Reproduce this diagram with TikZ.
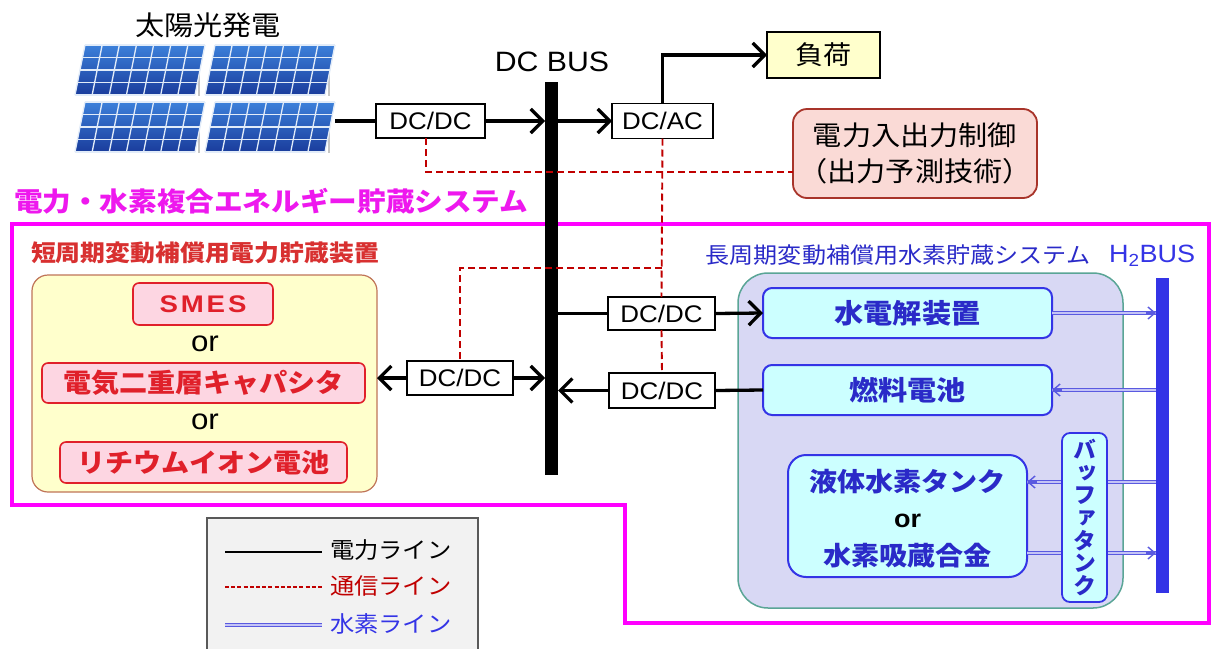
\documentclass[tikz,border=0pt]{standalone}
\usepackage{fontspec}
\setmainfont{Liberation Sans}
\newfontfamily\lat{Liberation Sans}[FakeStretch=1.08]
\newfontfamily\latw{Liberation Sans}[FakeStretch=1.15,LetterSpace=12]
\newfontfamily\jp{Noto Sans CJK JP}[FakeStretch=1.08]
\newfontfamily\jpv{Noto Sans CJK JP}[RawFeature=+vert]
\usetikzlibrary{arrows.meta,calc}
\newcommand\setfs[1]{\fontsize{#1}{#1}\selectfont}

\definecolor{pvlight}{HTML}{3C80DA}
\definecolor{pvdark}{HTML}{1A3C9C}
\definecolor{sysmag}{HTML}{FF00FF}
\definecolor{titlemag}{HTML}{EE18EE}
\definecolor{commred}{HTML}{C00000}
\definecolor{shortred}{HTML}{E0202A}
\definecolor{shortlab}{HTML}{D83030}
\definecolor{pinkfill}{HTML}{FDD6E2}
\definecolor{yelfill}{HTML}{FFFFCC}
\definecolor{yelborder}{HTML}{C07458}
\definecolor{ctrlfill}{HTML}{FADAD6}
\definecolor{ctrlborder}{HTML}{A8342A}
\definecolor{lavfill}{HTML}{D8D8F4}
\definecolor{lavborder}{HTML}{5AA596}
\definecolor{cyanfill}{HTML}{CCFFFF}
\definecolor{h2blue}{HTML}{3434E6}
\definecolor{h2text}{HTML}{2A2AC8}
\definecolor{h2line}{HTML}{5A5AE0}
\definecolor{h2inner}{HTML}{C4C4F6}
\definecolor{legfill}{HTML}{F2F2F2}

\begin{document}
\begin{tikzpicture}[x=1pt,y=-1pt,
  every node/.style={inner sep=0pt,outer sep=0pt},
  conv/.style={draw=black,line width=1.6pt,fill=white,font=\lat\setfs{24}},
  pline/.style={line width=3.3pt,black},
  parrow/.style={pline,-{Straight Barb[length=12pt,width=24pt]}},
  comm/.style={commred,line width=1.9pt,dash pattern=on 7pt off 4pt},
  h2pipe/.style={draw=h2line,line width=1pt,double=h2inner,double distance=2.4pt},
  h2tip/.style={h2line,line width=1.4pt,-{Straight Barb[length=7pt,width=12pt]}},
  shortbox/.style={draw=shortred,line width=1.6pt,fill=pinkfill,rounded corners=6pt,
    font=\jp\bfseries\setfs{26},text=shortred},
  h2box/.style={draw=h2blue,line width=2pt,fill=cyanfill,rounded corners=9pt,
    font=\jp\bfseries\setfs{27},text=h2text},
  pvgrid/.style={white!85!pvlight,line width=1.3pt}]

\useasboundingbox (0,0) rectangle (1214,648);
\clip (0,0) rectangle (1214,648);
\fill[white] (0,0) rectangle (1214,648);

% ---- solar array ----
\node[font=\jp\setfs{27}] (pvlabel) at (208,25) {太陽光発電};
\foreach \px/\py in {75/95,205/95,75/152,205/152}{
  \draw[gray!45,line width=2pt] ({\px+124},{\py-30}) -- ({\px+124},{\py+1});
  \shade[top color=pvlight,bottom color=pvdark]
    (\px,\py) -- ({\px+120},\py) -- ({\px+130},{\py-50}) -- ({\px+10},{\py-50}) -- cycle;
  \foreach \i in {0,...,7}
    \draw[pvgrid] ({\px+120*\i/7},\py) -- ({\px+10+120*\i/7},{\py-50});
  \foreach \j in {0,...,4}
    \draw[pvgrid] ({\px+10*\j/4},{\py-50*\j/4}) -- ({\px+120+10*\j/4},{\py-50*\j/4});
}
\coordinate (pvout) at (335,121);

% ---- hybrid storage system outline ----
\draw[sysmag,line width=4pt,line join=miter]
  (12,224) -- (1209,224) -- (1209,623) -- (625,623) -- (625,505) -- (12,505) -- cycle;
\node[anchor=west,font=\jp\bfseries\setfs{26.5},text=titlemag] (systitle) at (14,201)
  {電力・水素複合エネルギー貯蔵システム};

% ---- DC bus and converters ----
\node[fill=black,minimum width=13pt,minimum height=393pt] (dcbus) at (551.5,278.5) {};
\node[font=\lat\setfs{28}] (dcbuslabel) at (552,62) {DC BUS};
\node[conv,minimum width=109pt,minimum height=34pt] (dcdc1) at (430.5,121) {DC/DC};
\node[conv,minimum width=101pt,minimum height=35pt] (dcac) at (662.5,121) {DC/AC};
\node[draw=black,line width=1.2pt,fill=yelfill,minimum width=113pt,minimum height=46pt,
  font=\jp\setfs{26}] (load) at (823.5,55) {負荷};
\node[draw=ctrlborder,line width=1.8pt,fill=ctrlfill,rounded corners=14pt,
  minimum width=244pt,minimum height=89pt,align=center,font=\jp\setfs{27}]
  (ctrl) at (915,153.5) {電力入出力制御\\[9pt]（出力予測技術）};
\node[conv,minimum width=106pt,minimum height=34pt] (dcdcL) at (460,378) {DC/DC};
\node[conv,minimum width=107pt,minimum height=33pt] (dcdc2) at (661.5,313.5) {DC/DC};
\node[conv,minimum width=106pt,minimum height=35pt] (dcdc3) at (662,390.5) {DC/DC};

% ---- short-period storage ----
\node[font=\jp\bfseries\setfs{23},text=shortlab] (shortlabel) at (205,253)
  {短周期変動補償用電力貯蔵装置};
\node[draw=yelborder,line width=1.2pt,fill=yelfill,rounded corners=16pt,
  minimum width=345pt,minimum height=217pt] (short) at (204.5,383.5) {};
\node[shortbox,minimum width=140pt,minimum height=42pt,font=\latw\bfseries\setfs{24}]
  (smes) at (203,304) {SMES};
\node[font=\lat\setfs{29}] (or1) at (205,344) {or};
\node[shortbox,minimum width=323pt,minimum height=40pt] (edlc) at (203.5,383) {電気二重層キャパシタ};
\node[font=\lat\setfs{29}] (or2) at (205,422) {or};
\node[shortbox,minimum width=287pt,minimum height=41pt] (liion) at (203.5,462.5) {リチウムイオン電池};

% ---- long-period hydrogen storage ----
\node[font=\jp\setfs{22.3},text=h2text] (longlabel) at (898,255)
  {長周期変動補償用水素貯蔵システム};
\node[font=\lat\setfs{25},text=h2blue] (h2buslabel) at (1152,256) {H\textsubscript{2}BUS};
\node[draw=lavborder,line width=1.5pt,fill=lavfill,rounded corners=30pt,
  minimum width=385pt,minimum height=335pt] (long) at (930.5,440.5) {};
\node[fill=h2blue,minimum width=13pt,minimum height=315pt] (h2bus) at (1162.5,435.5) {};
\node[h2box,minimum width=289pt,minimum height=50pt] (elec) at (907.5,313) {水電解装置};
\node[h2box,minimum width=289pt,minimum height=50pt] (fc) at (907.5,390) {燃料電池};
\node[h2box,rounded corners=18pt,minimum width=239pt,minimum height=122pt] (tank) at (907.5,516) {};
\node[font=\jp\bfseries\setfs{26},text=h2text] (tanktop) at (907.5,482) {液体水素タンク};
\node[font=\lat\bfseries\setfs{25}] (tankor) at (907.5,521) {or};
\node[font=\jp\bfseries\setfs{26},text=h2text] (tankbot) at (907.5,556) {水素吸蔵合金};
\coordinate (tankin) at (tank.east |- tanktop);
\coordinate (tankout) at ($(tank.east)+(0,37)$);

% hydrogen lines
\draw[h2pipe] (elec.east) -- (h2bus.west |- elec.east);
\draw[h2tip] ($(h2bus.west |- elec.east)+(-10,0)$) -- (h2bus.west |- elec.east);
\draw[h2pipe] (h2bus.west |- fc.east) -- (fc.east);
\draw[h2tip] ($(fc.east)+(10,0)$) -- (fc.east);
\draw[h2pipe] (h2bus.west |- tankin) -- (tankin);
\draw[h2tip] ($(tankin)+(10,0)$) -- (tankin);
\draw[h2pipe] (tankout) -- (h2bus.west |- tankout);
\draw[h2tip] ($(h2bus.west |- tankout)+(-10,0)$) -- (h2bus.west |- tankout);

\node[draw=h2blue,line width=1.8pt,fill=cyanfill,rounded corners=8pt,
  minimum width=45pt,minimum height=169pt,align=center,
  font=\jpv\bfseries\fontsize{23}{22.6}\selectfont,text=h2text] (buffer) at (1084.5,517.5)
  {バ\\ッ\\フ\\ァ\\タ\\ン\\ク};

% ---- power lines ----
\draw[pline] (pvout) -- (dcdc1.west);
\draw[parrow] (dcdc1.east) -- (dcdc1.east -| dcbus.west);
\draw[parrow] (dcac.west -| dcbus.east) -- (dcac.west);
\draw[parrow] (dcac.north) |- (load.west);
\draw[pline] (dcdc2.west -| dcbus.east) -- (dcdc2.west);
\draw[parrow] (dcdc2.east) -- (elec.west);
\draw[pline] (fc.west) -- (dcdc3.east);
\draw[parrow] (dcdc3.west) -- (dcdc3.west -| dcbus.east);
\draw[parrow] (dcdcL.east) -- (dcdcL.east -| dcbus.west);
\draw[parrow] (dcdcL.west) -- (dcdcL.west -| short.east);

% ---- communication lines ----
\coordinate (cjoin) at (426,172);
\coordinate (tap) at (662,268);
\draw[comm] (dcdc1.south -| cjoin) -- (cjoin) -- (cjoin -| ctrl.west);
\draw[comm] (dcac.south) -- (dcdc2.north);
\draw[comm] (dcdc2.south) -- (dcdc3.north);
\draw[comm] (tap) -| (dcdcL.north);

% ---- legend ----
\node[draw=black!65,line width=1.5pt,fill=legfill,minimum width=271pt,minimum height=160pt]
  (legend) at (342.5,598) {};
\coordinate (lg1a) at (225,552); \coordinate (lg1b) at (322,552);
\coordinate (lg2a) at (225,587); \coordinate (lg2b) at (322,587);
\coordinate (lg3a) at (225,625); \coordinate (lg3b) at (322,625);
\draw[pline,line width=2.6pt] (lg1a) -- (lg1b);
\draw[commred,line width=1.6pt,dash pattern=on 4pt off 2.2pt] (lg2a) -- (lg2b);
\draw[h2pipe] (lg3a) -- (lg3b);
\node[anchor=west,font=\jp\setfs{22.5}] (lgt1) at (330,550) {電力ライン};
\node[anchor=west,font=\jp\setfs{22.5},text=commred] (lgt2) at (330,586) {通信ライン};
\node[anchor=west,font=\jp\setfs{22.5},text=h2blue] (lgt3) at (330,624) {水素ライン};
\end{tikzpicture}
\end{document}
